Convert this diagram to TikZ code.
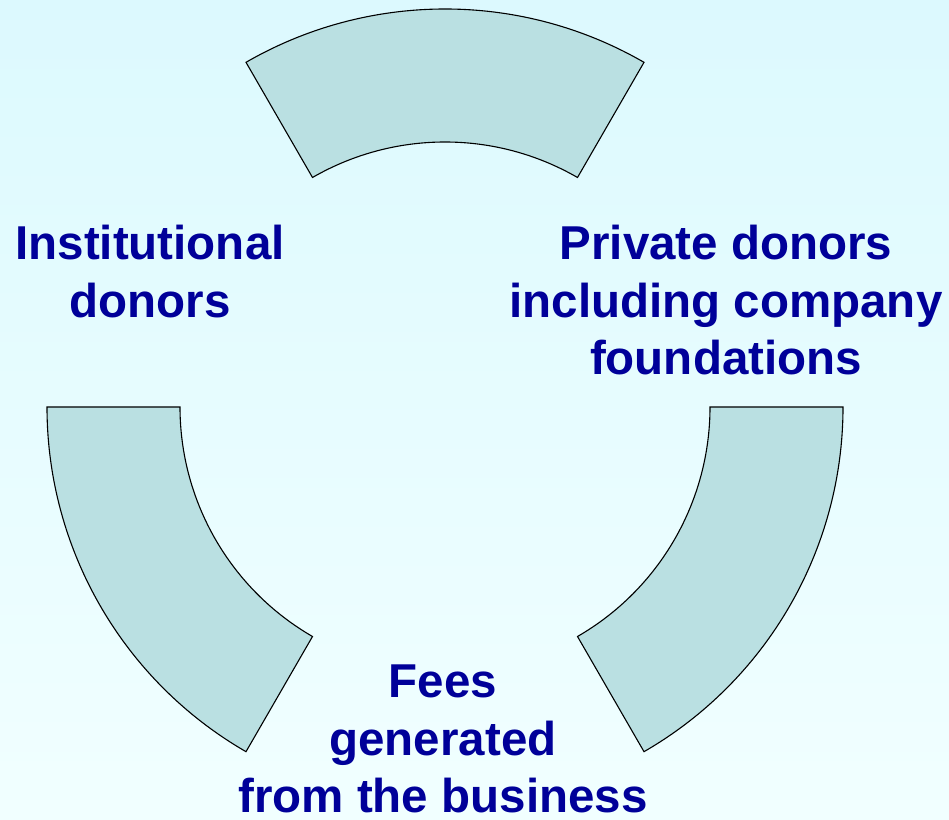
\documentclass[tikz,border=0pt]{standalone}
\usepackage{fontspec}
\setmainfont{Liberation Sans}
\definecolor{bgtop}{RGB}{220,249,254}
\definecolor{bgbot}{RGB}{241,255,255}
\definecolor{segfill}{RGB}{186,224,226}
\definecolor{labblue}{RGB}{0,0,153}

\begin{document}
\begin{tikzpicture}[x=1pt,y=1pt,
  seg/.style={draw=black,line width=1.1pt,fill=segfill,line join=miter},
  lab/.style={align=center,inner sep=0pt,anchor=north,text=labblue,font=\bfseries\fontsize{47.5}{57.5}\selectfont}]
\useasboundingbox (0,0) rectangle (949,819);
\shade[top color=bgtop,bottom color=bgbot](0,0) rectangle (949,819);
\begin{scope}[shift={(445,412)}]
\draw[seg](60:398) arc (60:120:398)--(120:265) arc (120:60:265)--cycle;
\draw[seg](180:398) arc (180:240:398)--(240:265) arc (240:180:265)--cycle;
\draw[seg](300:398) arc (300:360:398)--(360:265) arc (360:300:265)--cycle;
\end{scope}
\node[lab](inst) at (150,594){Institutional\\donors};
\node[lab](priv) at (726,594){Private donors\\including company\\foundations};
\node[lab](fees) at (443,154){Fees\\generated\\from the business};
\end{tikzpicture}
\end{document}
